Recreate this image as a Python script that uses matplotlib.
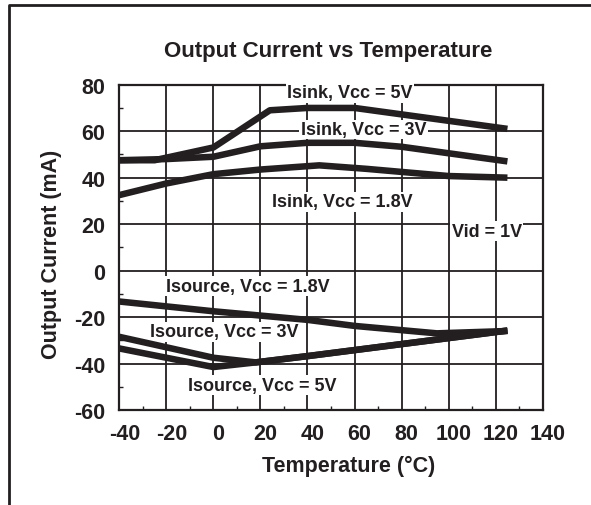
import matplotlib
matplotlib.use("Agg")
import matplotlib.pyplot as plt
from matplotlib.lines import Line2D
from matplotlib.ticker import MultipleLocator
import matplotlib.transforms as mtransforms

plt.rcParams["font.family"] = ["Liberation Sans", "DejaVu Sans"]
plt.rcParams["font.weight"] = "bold"
plt.rcParams["axes.unicode_minus"] = False

INK = "#231f20"

# Isink curves
sink_5v_t = [-40, -25, 0, 24, 40, 60, 125]
sink_5v_i = [47.5, 47.5, 53, 69, 70, 70, 61]

sink_3v_t = [-40, -20, 0, 20, 40, 60, 80, 100, 125]
sink_3v_i = [47.5, 48, 49, 53.5, 55, 55, 53.3, 50.5, 47]

sink_18_t = [-40, -20, 0, 20, 45, 65, 100, 125]
sink_18_i = [32.5, 37.5, 41.5, 43.5, 45.3, 43.8, 40.7, 40]

# Isource curves
src_18_t = [-40, 0, 40, 60, 95, 125]
src_18_i = [-13.3, -17.5, -21.2, -23.8, -27, -26]

src_3v_t = [-40, 0, 18, 40, 125]
src_3v_i = [-28.5, -37.5, -39.5, -36.8, -25.8]

src_5v_t = [-40, 0, 18, 40, 125]
src_5v_i = [-33.5, -41.5, -39.5, -36.8, -25.8]

x_ticks = [-40, -20, 0, 20, 40, 60, 80, 100, 120, 140]
y_ticks = [-60, -40, -20, 0, 20, 40, 60, 80]

fig = plt.figure(figsize=(5.91, 5.06), dpi=100)
ax = fig.add_axes([0.2019, 0.1877, 0.7164, 0.6429])

for t, i in [(sink_5v_t, sink_5v_i), (sink_3v_t, sink_3v_i), (sink_18_t, sink_18_i),
             (src_18_t, src_18_i), (src_3v_t, src_3v_i), (src_5v_t, src_5v_i)]:
    ax.plot(t, i, color=INK, lw=4.7, solid_capstyle="butt", solid_joinstyle="round", zorder=3)

ax.set_xlim(-40, 140)
ax.set_ylim(-60, 80)
ax.set_xticks(x_ticks)
ax.set_yticks(y_ticks)
ax.xaxis.set_minor_locator(MultipleLocator(10))
ax.yaxis.set_minor_locator(MultipleLocator(10))
ax.tick_params(which="major", length=0, labelsize=15.5, colors=INK)
ax.tick_params(axis="x", which="major", pad=9)
ax.tick_params(axis="y", which="major", pad=10)
ax.tick_params(which="minor", direction="in", length=3, width=1, color=INK,
               top=False, right=False)
ax.grid(True, which="major", color=INK, lw=1.3)
for s in ax.spines.values():
    s.set_linewidth(1.6)
    s.set_color(INK)

# tick labels in the original sit a bit right of their grid lines
shift = mtransforms.ScaledTranslation(5 / 100, 0, fig.dpi_scale_trans)
for lab in ax.get_xticklabels():
    lab.set_transform(lab.get_transform() + shift)

box = dict(facecolor="white", edgecolor="none", pad=1)
labels = [
    ("Isink, Vcc = 5V", 58, 74.6),
    ("Isink, Vcc = 3V", 63.8, 58.8),
    ("Isink, Vcc = 1.8V", 54.6, 27.7),
    ("Vid = 1V", 116.2, 15),
    ("Isource, Vcc = 1.8V", 14.8, -8.7),
    ("Isource, Vcc = 3V", 4.5, -28.3),
    ("Isource, Vcc = 5V", 20.8, -51.3),
]
for txt, x, y in labels:
    ax.text(x, y, txt, ha="center", va="baseline", fontsize=13,
            color=INK, bbox=box, zorder=2.7)

fig.text(328 / 591, 1 - 51 / 506, "Output Current vs Temperature",
         ha="center", va="center", fontsize=16, color=INK)
fig.text(349 / 591, 1 - 466.7 / 506, "Temperature (°C)",
         ha="center", va="center", fontsize=15.5, color=INK)
fig.text(51.7 / 591, 1 - 254 / 506, "Output Current (mA)", rotation=90,
         ha="center", va="center", fontsize=15.5, color=INK)

# outer frame (top and left edges visible)
fig.add_artist(Line2D([8.7 / 591, 8.7 / 591, 1], [0, 1 - 6.2 / 506, 1 - 6.2 / 506],
                      transform=fig.transFigure, color=INK, lw=2))

fig.savefig("out.png", dpi=100)
